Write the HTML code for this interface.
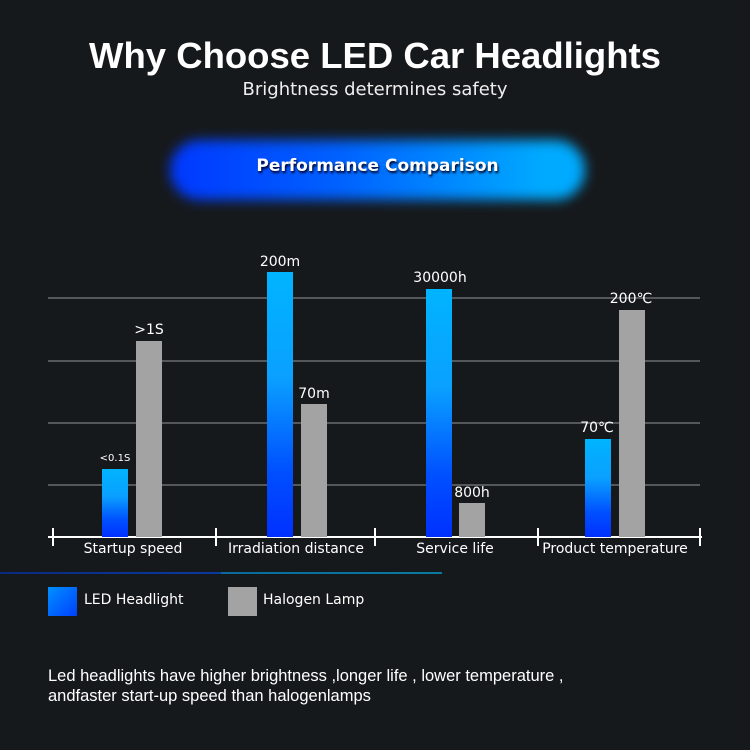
<!DOCTYPE html>
<html><head><meta charset="utf-8"><style>
body{margin:0;width:750px;height:750px;overflow:hidden;background:#16191c;font-family:"DejaVu Sans","Liberation Sans",sans-serif;color:#fff;position:relative}
div{position:absolute}
.t{white-space:nowrap}
.g{height:2px;left:48px;width:652px;background:#55585a}
.b{background:linear-gradient(to bottom,#00b4ff 0%,#0aa0ff 40%,#0050ff 75%,#0030ff 100%);width:26px;bottom:213px}
.h{background:#a3a3a3;width:26px;bottom:213px}
.v{font-size:14px;text-align:center;width:80px}
.c{font-size:14px;text-align:center;top:541px}
.tk{width:2px;height:18px;top:528px;background:#fff}
</style></head><body>
<div class="t" style="left:0;width:750px;top:35px;text-align:center;font:bold 36.5px 'Liberation Sans',sans-serif">Why Choose LED Car Headlights</div>
<div class="t" style="left:0;width:750px;top:79px;text-align:center;font-size:18px;color:#eee">Brightness determines safety</div>
<div style="left:170px;top:140px;width:415px;height:60px;border-radius:30px;background:linear-gradient(to right,#0038ff,#0060ff 40%,#00aaff 90%);filter:blur(6px)"></div>
<div class="t" style="left:170px;width:415px;top:156px;text-align:center;font-weight:bold;font-size:17px;text-shadow:1px 2px 2px #002">Performance Comparison</div>
<div class="g" style="top:297px"></div>
<div class="g" style="top:360px"></div>
<div class="g" style="top:422px"></div>
<div class="g" style="top:484px"></div>
<div style="left:48px;width:654px;top:536px;height:2px;background:#fff"></div>
<div class="tk" style="left:52px"></div><div class="tk" style="left:215px"></div><div class="tk" style="left:374px"></div><div class="tk" style="left:537px"></div><div class="tk" style="left:699px"></div>
<div class="b" style="left:102px;height:68px"></div>
<div class="h" style="left:136px;height:196px"></div>
<div class="b" style="left:267px;height:265px"></div>
<div class="h" style="left:301px;height:133px"></div>
<div class="b" style="left:426px;height:248px"></div>
<div class="h" style="left:459px;height:34px"></div>
<div class="b" style="left:585px;height:98px"></div>
<div class="h" style="left:619px;height:227px"></div>
<div class="v" style="left:75px;top:453px;font-size:10px">&lt;0.1S</div>
<div class="v" style="left:109px;top:322px">&gt;1S</div>
<div class="v" style="left:240px;top:254px">200m</div>
<div class="v" style="left:274px;top:386px">70m</div>
<div class="v" style="left:400px;top:270px">30000h</div>
<div class="v" style="left:432px;top:485px">800h</div>
<div class="v" style="left:557px;top:420px">70℃</div>
<div class="v" style="left:591px;top:291px">200℃</div>
<div class="c" style="left:53px;width:160px">Startup speed</div>
<div class="c" style="left:216px;width:160px">Irradiation distance</div>
<div class="c" style="left:375px;width:160px">Service life</div>
<div class="c" style="left:530px;width:170px">Product temperature</div>
<div style="left:0;top:572px;width:442px;height:2px;background:linear-gradient(to right,#0a2a80,#0a3aa0 50%,#0a6a9a 50%,#0a7aa0)"></div>
<div style="left:48px;top:587px;width:29px;height:29px;background:linear-gradient(135deg,#0090ff,#0040ff)"></div>
<div class="t" style="left:84px;top:592px;font-size:14px">LED Headlight</div>
<div style="left:228px;top:587px;width:29px;height:29px;background:#a3a3a3"></div>
<div class="t" style="left:263px;top:592px;font-size:14px">Halogen Lamp</div>
<div class="t" style="left:48px;top:666px;font:16.5px 'Liberation Sans',sans-serif;line-height:20px">Led headlights have higher brightness ,longer life , lower temperature ,<br>andfaster start-up speed than halogenlamps</div>
</body></html>
